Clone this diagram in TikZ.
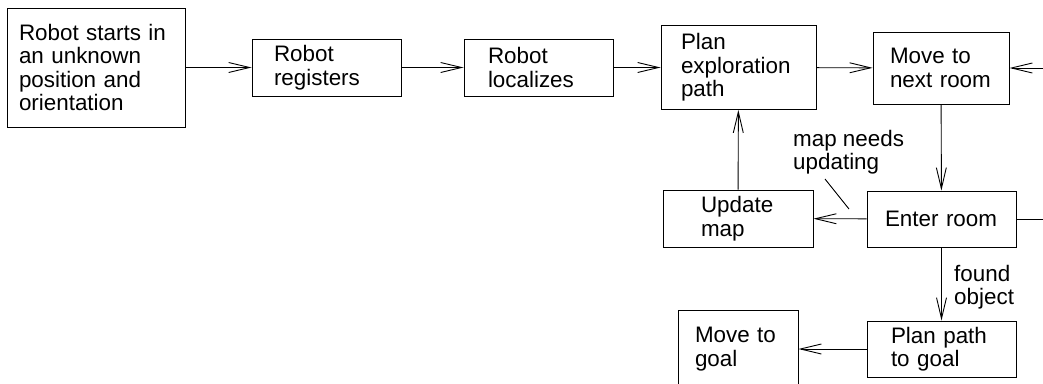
\documentclass[tikz,border=0pt]{standalone}
\usepackage{fontspec}
\setmainfont{Liberation Sans}
\usetikzlibrary{arrows.meta}

\begin{document}
\begin{tikzpicture}[x=1pt,y=-1pt,
		every node/.style={font=\fontsize{22.4}{23.5}\selectfont},
		stepbox/.style={draw, line width=0.9pt, align=left, inner ysep=2pt},
		flow/.style={line width=0.9pt, -{Straight Barb[length=21pt,width=10pt]}}]
		\useasboundingbox (0,0) rectangle (1043,383);
		% top row
		\node[stepbox, minimum width=178pt, minimum height=119pt, inner xsep=12pt, text width=154pt] (start) at (96,67.5) {Robot starts in\\an unknown\\position and\\orientation};
		\node[stepbox, minimum width=149pt, minimum height=57pt, inner xsep=22pt, text width=105pt] (reg) at (326.5,67.5) {Robot\\registers};
		\node[stepbox, minimum width=149pt, minimum height=57pt, inner xsep=24pt, text width=101pt] (loc) at (538.5,67.5) {Robot\\localizes};
		\node[stepbox, minimum width=155pt, minimum height=84pt, inner xsep=20pt, text width=115pt] (plan) at (738.5,67.5) {Plan\\exploration\\path};
		\node[stepbox, minimum width=136pt, minimum height=72pt, inner xsep=17pt, text width=102pt] (move) at (941,68) {Move to\\next room};
		% middle row
		\node[stepbox, minimum width=149pt, minimum height=56pt, inner xsep=18pt, text width=113pt] (enter) at (941.5,219) {Enter room};
		\node[stepbox, minimum width=150pt, minimum height=57pt, inner xsep=38pt, text width=74pt] (update) at (738,218.5) {Update\\map};
		% bottom row
		\node[stepbox, minimum width=149pt, minimum height=56pt, inner xsep=24pt, text width=101pt] (goalplan) at (941.5,349) {Plan path\\to goal};
		\node[stepbox, minimum width=120pt, minimum height=78pt, inner xsep=17pt, text width=86pt] (goal) at (738,349) {Move to\\goal};
		% labels
		\node[align=left, anchor=west, inner sep=0pt] (needs) at (793,152) {map needs\\updating};
		\node[align=left, anchor=west, inner sep=0pt] (found) at (954,287) {found\\object};
		\coordinate (needsA) at (825,179);
		\coordinate (needsB) at (849,209);
		\coordinate (inR) at (1050,68);
		\coordinate (outR) at (1050,219);
		% connectors
		\draw[flow] (start) -- (reg);
		\draw[flow] (reg) -- (loc);
		\draw[flow] (loc) -- (plan);
		\draw[flow] (plan) -- (move);
		\draw[flow] (inR) -- (move);
		\draw[flow] (move) -- (enter);
		\draw[line width=0.9pt] (enter) -- (outR);
		\draw[flow] (enter) -- (update);
		\draw[flow] (update) -- (plan);
		\draw[line width=0.9pt] (needsA) -- (needsB);
		\draw[flow] (enter) -- (goalplan);
		\draw[flow] (goalplan) -- (goal);
\end{tikzpicture}
\end{document}
